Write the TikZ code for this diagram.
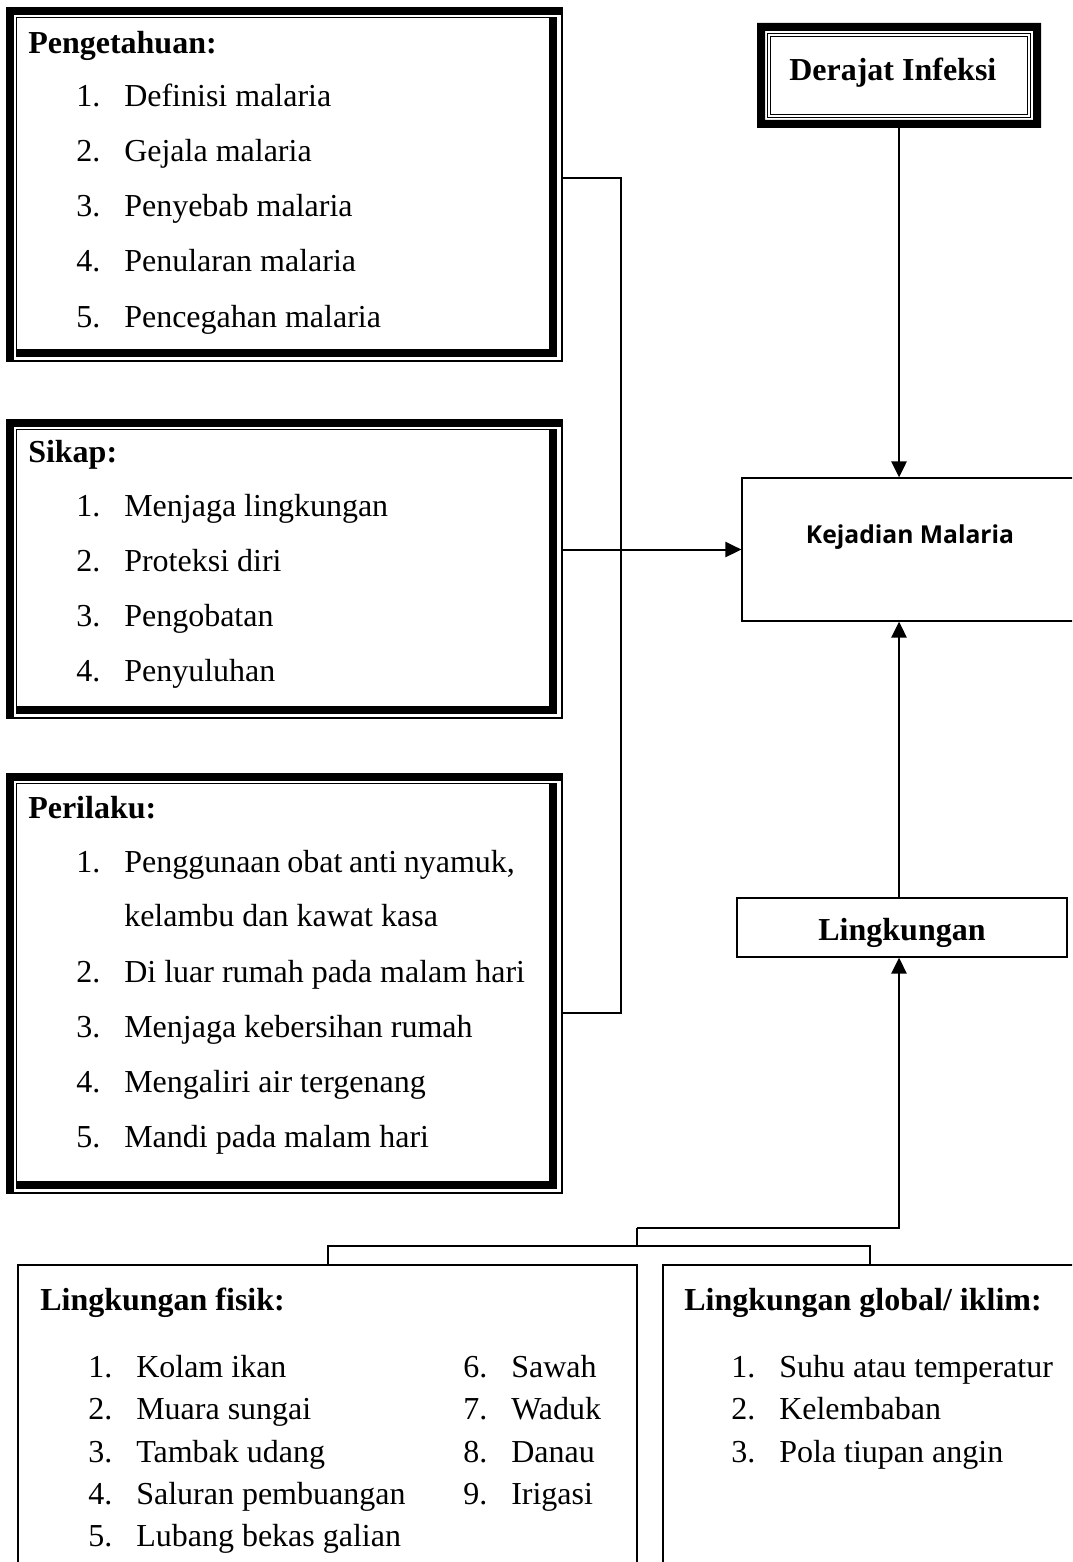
\documentclass[tikz,border=0pt]{standalone}
\usepackage{fontspec}
\setmainfont{Liberation Serif}
\newfontfamily\kejfont{Open Sans}
\usetikzlibrary{arrows.meta,fit}

\newcommand{\lnum}[1]{\makebox[36pt][l]{#1}}
% thick-thin frame (left, top, right, bottom in px)
\newcommand{\tkframe}[4]{%
  \fill (#1,#2) rectangle (#3+1,#2+8);
  \fill (#1,#2) rectangle (#1+8,#4);
  \draw[line width=1.1pt] (#3,#2) -- (#3,#4) -- (#1,#4);
  \draw[line width=1.1pt] (#3-12,#2+10.5) -- (#1+10.5,#2+10.5) -- (#1+10.5,#4-4);
  \fill (#3-13,#2+10) rectangle (#3-5,#4-4);
  \fill (#1+10,#4-12) rectangle (#3-5,#4-4);
}
% thick frame with double thin line inside
\newcommand{\dblframe}[4]{%
  \fill[even odd rule] (#1,#2) rectangle (#3,#4) (#1+8,#2+8) rectangle (#3-8,#4-8);
  \draw[line width=0.9pt] (#1+10.5,#2+10.5) rectangle (#3-10.5,#4-10.5);
  \draw[line width=0.9pt] (#1+13.5,#2+13.5) rectangle (#3-13.5,#4-13.5);
}

\begin{document}
\begin{tikzpicture}[x=0.75pt,y=0.75pt,yscale=-1,xscale=1,
  item/.style={anchor=base west,inner sep=0pt,font=\fontsize{24}{28}\selectfont},
  head/.style={item,font=\fontsize{24}{28}\selectfont\bfseries},
  hold/.style={inner sep=0pt},
  box/.style={draw,line width=1pt,inner sep=0pt},
  link/.style={line width=1.1pt},
  lkline/.style={line width=1.5pt},
  arr/.style={line width=1.5pt,-{Triangle[length=12pt,width=11.5pt]}}]
\useasboundingbox (0,0) rectangle (1072,1562);
\clip (0,0) rectangle (1072,1562);

%Shape: Pengetahuan
\tkframe{6}{7}{562}{361}
\node[hold,fit={(6,7) (562,361)}] (peng) {};
% Text Node
\node[head] (pengh) at (28,54) {Pengetahuan:};
\node[item] (peng1) at (76,107) {\lnum{1.}Definisi malaria};
\node[item] (peng2) at (76,162) {\lnum{2.}Gejala malaria};
\node[item] (peng3) at (76,217) {\lnum{3.}Penyebab malaria};
\node[item] (peng4) at (76,272) {\lnum{4.}Penularan malaria};
\node[item] (peng5) at (76,327) {\lnum{5.}Pencegahan malaria};

%Shape: Sikap
\tkframe{6}{419}{562}{718}
\node[hold,fit={(6,419) (562,718)}] (sik) {};
% Text Node
\node[head] (sikh) at (28,462) {Sikap:};
\node[item] (sik1) at (76,516) {\lnum{1.}Menjaga lingkungan};
\node[item] (sik2) at (76,571) {\lnum{2.}Proteksi diri};
\node[item] (sik3) at (76,626) {\lnum{3.}Pengobatan};
\node[item] (sik4) at (76,681) {\lnum{4.}Penyuluhan};

%Shape: Perilaku
\tkframe{6}{773}{562}{1193}
\node[hold,fit={(6,773) (562,1193)}] (peri) {};
% Text Node
\node[head] (perih) at (28,818) {Perilaku:};
\node[item] (peri1) at (76,872) {\lnum{1.}\hbox to 293pt{Penggunaan\hfill obat\hfill anti\hfill nyamuk,}};
\node[item] (peri1b) at (124,926) {kelambu dan kawat kasa};
\node[item] (peri2) at (76,982) {\lnum{2.}Di luar rumah pada malam hari};
\node[item] (peri3) at (76,1037) {\lnum{3.}Menjaga kebersihan rumah};
\node[item] (peri4) at (76,1092) {\lnum{4.}Mengaliri air tergenang};
\node[item] (peri5) at (76,1147) {\lnum{5.}Mandi pada malam hari};

%Shape: Derajat Infeksi
\dblframe{757}{23}{1041}{128}
\node[hold,fit={(757,23) (1041,128)}] (der) {};
\node[head] (dert) at (789,81) {Derajat Infeksi};

%Shape: Kejadian Malaria
\node[box,fit={(742,478) (1080,621)}] (kej) {};
\node[anchor=base,inner sep=0pt,font=\kejfont\fontsize{18.5}{22}\selectfont\bfseries] (kejt) at (910,543) {Kejadian Malaria};

%Shape: Lingkungan
\node[box,fit={(737,898) (1067,957)}] (ling) {};
\node[head,anchor=base] (lingt) at (902,940) {Lingkungan};

%Shape: Lingkungan fisik
\node[box,fit={(18,1265) (637,1600)}] (fis) {};
% Text Node
\node[head] (fish) at (40,1310) {Lingkungan fisik:};
\node[item] (fis1) at (88,1377) {\lnum{1.}Kolam ikan};
\node[item] (fis2) at (88,1419) {\lnum{2.}Muara sungai};
\node[item] (fis3) at (88,1462) {\lnum{3.}Tambak udang};
\node[item] (fis4) at (88,1504) {\lnum{4.}Saluran pembuangan};
\node[item] (fis5) at (88,1546) {\lnum{5.}Lubang bekas galian};
\node[item] (fis6) at (463,1377) {\lnum{6.}Sawah};
\node[item] (fis7) at (463,1419) {\lnum{7.}Waduk};
\node[item] (fis8) at (463,1462) {\lnum{8.}Danau};
\node[item] (fis9) at (463,1504) {\lnum{9.}Irigasi};

%Shape: Lingkungan global
\node[box,fit={(663,1265) (1077,1600)}] (glob) {};
% Text Node
\node[head] (globh) at (684,1310) {Lingkungan global/ iklim:};
\node[item] (glob1) at (731,1377) {\lnum{1.}Suhu atau temperatur};
\node[item] (glob2) at (731,1419) {\lnum{2.}Kelembaban};
\node[item] (glob3) at (731,1462) {\lnum{3.}Pola tiupan angin};

%Connectors
\draw[link] (peng.east |- 0,178) -- (621,178) -- (621,1013) -- (peri.east |- 0,1013);
\draw[arr] (der.south) -- (der.south |- kej.north);
\draw[arr] (sik.east |- kej.west) -- (kej.west);
\draw[arr] (der.south |- ling.north) -- (der.south |- kej.south);
\coordinate (jn) at (637,1228);
\draw[arr] (jn) -| (der.south |- ling.south);
\draw[lkline] (jn) -- (jn |- 0,1246) (fis.north) -- (fis.north |- 0,1246) -- (glob.north |- 0,1246) -- (glob.north);

\end{tikzpicture}
\end{document}
